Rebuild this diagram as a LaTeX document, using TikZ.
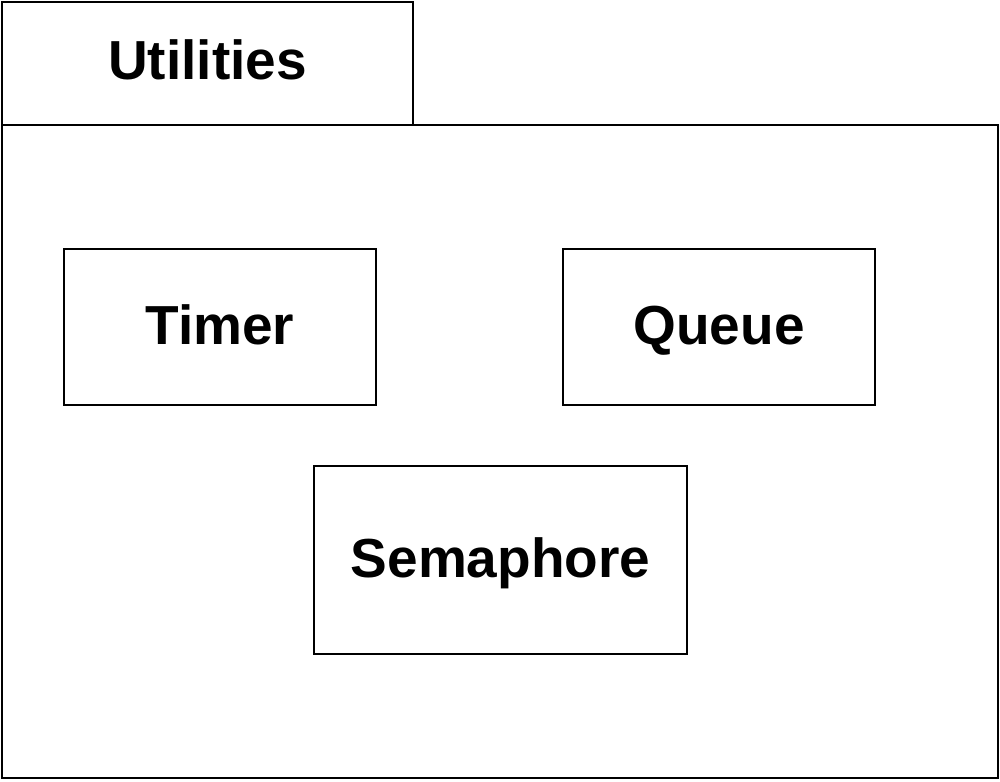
\documentclass[tikz,border=0pt]{standalone}
\usepackage{fontspec}
\setmainfont{Liberation Sans}
\begin{document}
\begin{tikzpicture}[x=0.02cm,y=-0.02cm,
  frame/.style={draw=black,line width=0.03cm,fill=white},
  cls/.style={draw=black,line width=0.03cm,fill=white,inner sep=0pt,font=\fontsize{31.3}{36}\selectfont\bfseries,text height=22.5pt,text depth=2.2pt},
  title/.style={font=\fontsize{31.3}{36}\selectfont\bfseries,text height=22.5pt,text depth=2.2pt}]
\useasboundingbox (0,0) rectangle (1000,781);
\fill[white] (0,0) rectangle (1000,781);
\draw[frame] (2,2) rectangle (413,125);
\draw[frame] (2,125) rectangle (998,778);
\node[title] (pkg) at (207.5,62) {Utilities};
\node[cls,minimum width=312*0.02cm,minimum height=156*0.02cm] (timer) at (220,327) {Timer};
\node[cls,minimum width=312*0.02cm,minimum height=156*0.02cm] (queue) at (719,327) {Queue};
\node[cls,minimum width=373*0.02cm,minimum height=188*0.02cm] (sema) at (500.5,560) {Semaphore};
\end{tikzpicture}
\end{document}
